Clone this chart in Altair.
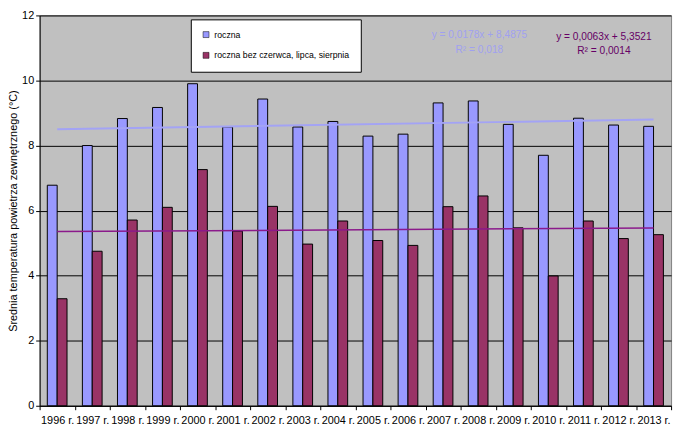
import pandas as pd
import altair as alt

years = list(range(1996, 2014))
roczna = [6.78, 8.00, 8.83, 9.17, 9.90, 8.57, 9.43, 8.57, 8.74,
          8.29, 8.35, 9.31, 9.37, 8.65, 7.70, 8.84, 8.63, 8.59]
bez_lata = [3.29, 4.75, 5.71, 6.10, 7.26, 5.37, 6.13, 4.97, 5.68,
            5.08, 4.93, 6.12, 6.45, 5.47, 3.99, 5.68, 5.14, 5.26]
series_names = ["roczna", "roczna bez czerwca, lipca, sierpnia"]

df = pd.concat([
    pd.DataFrame({"yr": years, "series": series_names[0], "value": roczna}),
    pd.DataFrame({"yr": years, "series": series_names[1], "value": bez_lata}),
])

FONT = "Liberation Sans"

x_enc = alt.X(
    "yr:O",
    title=None,
    scale=alt.Scale(paddingInner=0, paddingOuter=0),
    axis=alt.Axis(
        labelExpr="isValid(datum.value) ? datum.value + ' r.' : ''",
        labelAngle=0,
        labelOverlap=False,
        tickBand="extent",
        grid=False,
        tickSize=4,
        labelPadding=5,
        domainColor="black",
        tickColor="black",
    ),
)

bars = (
    alt.Chart(df)
    .mark_bar(stroke="black", strokeWidth=1)
    .encode(
        x=x_enc,
        xOffset=alt.XOffset(
            "series:N",
            sort=series_names,
            scale=alt.Scale(paddingOuter=0.78, paddingInner=0),
        ),
        y=alt.Y(
            "value:Q",
            title="Średnia temperatura powietrza zewnętrznego (°C)",
            scale=alt.Scale(domain=[0, 12]),
            axis=alt.Axis(
                values=[0, 2, 4, 6, 8, 10, 12],
                gridColor="black",
                gridWidth=1,
                tickSize=4,
                labelPadding=2,
                titlePadding=3,
                domainColor="black",
                tickColor="black",
            ),
        ),
        color=alt.Color(
            "series:N",
            sort=series_names,
            scale=alt.Scale(domain=series_names, range=["#9999FF", "#993366"]),
            legend=alt.Legend(
                title=None,
                orient="none",
                legendX=153,
                legendY=4,
                fillColor="white",
                strokeColor="black",
                padding=11,
                rowPadding=11,
                symbolType="square",
                symbolSize=36,
                symbolStrokeColor="black",
                symbolStrokeWidth=0.5,
                labelFontSize=8.8,
                labelFont=FONT,
                labelLimit=300,
            ),
        ),
    )
)

trend = (
    alt.Chart(df)
    .transform_regression("yr", "value", groupby=["series"])
    .mark_line()
    .encode(
        x=alt.X("yr:O"),
        y=alt.Y("value:Q"),
        stroke=alt.Stroke(
            "series:N",
            scale=alt.Scale(domain=series_names, range=["#A3A3F5", "#8B1A8B"]),
            legend=None,
        ),
        strokeWidth=alt.StrokeWidth(
            "series:N",
            scale=alt.Scale(domain=series_names, range=[2, 1.5]),
            legend=None,
        ),
    )
)

eq_blue = ["y = 0,0178x + 8,4875", "R² = 0,018"]
eq_red = ["y = 0,0063x + 5,3521", "R² = 0,0014"]

labels = []
for i, t in enumerate(eq_blue):
    labels.append(
        alt.Chart(pd.DataFrame({"t": [t]}))
        .mark_text(font=FONT, fontSize=10.3, color="#A0A0F0", baseline="middle")
        .encode(text="t:N", x=alt.value(445), y=alt.value(20 + 15 * i))
    )
for i, t in enumerate(eq_red):
    labels.append(
        alt.Chart(pd.DataFrame({"t": [t]}))
        .mark_text(font=FONT, fontSize=10.3, color="#660066", baseline="middle")
        .encode(text="t:N", x=alt.value(571), y=alt.value(22 + 14 * i))
    )

chart = (
    alt.layer(bars, trend, *labels)
    .resolve_scale(color="independent")
    .properties(
        width=639,
        height=395,
        autosize=alt.AutoSizeParams(type="none"),
        padding={"left": 32, "top": 5, "right": 7, "bottom": 20},
    )
    .configure_view(fill="#C0C0C0", stroke="#808080")
    .configure_axis(
        labelFont=FONT,
        labelFontSize=11,
        labelColor="black",
        titleFont=FONT,
        titleFontSize=11,
        titleFontWeight="normal",
        titleColor="black",
    )
)

chart.save("out.html", embed_options={"renderer": "svg", "actions": False})
